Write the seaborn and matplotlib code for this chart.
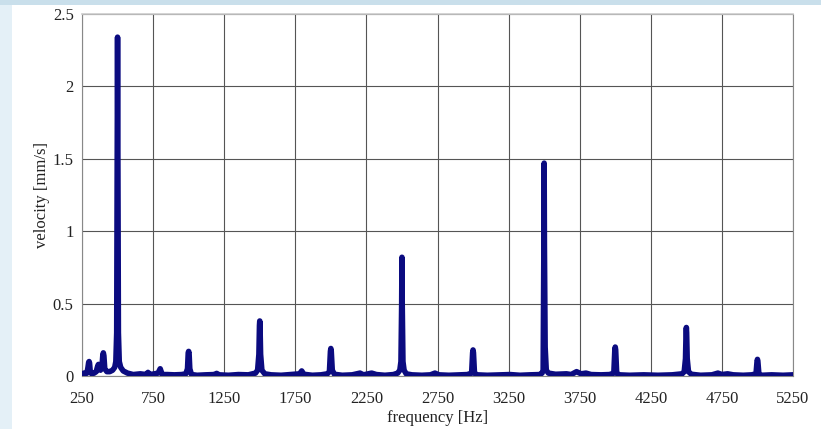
import pandas as pd
import seaborn as sns
import matplotlib.pyplot as plt
from matplotlib.patches import Rectangle

# spectrum points as (frequency Hz, velocity mm/s)
band_low = [(250, 0.01), (262, 0.02), (275, 0.015), (285, 0.02), (292, 0.06), (297, 0.095),
            (300, 0.1), (303, 0.09), (308, 0.03), (318, 0.015), (335, 0.02), (350, 0.03),
            (358, 0.06), (363, 0.075), (366, 0.08), (370, 0.06), (380, 0.04), (390, 0.06),
            (396, 0.14), (400, 0.16), (404, 0.14), (410, 0.05), (425, 0.03), (445, 0.03),
            (465, 0.04), (480, 0.06), (488, 0.1), (494, 0.3), (498, 1.6), (500, 2.34),
            (502, 1.6), (506, 0.3), (512, 0.1), (522, 0.06), (540, 0.035), (570, 0.02),
            (610, 0.01), (660, 0.015), (700, 0.01), (714, 0.025), (728, 0.01), (760, 0.015),
            (785, 0.02), (795, 0.04), (800, 0.05), (805, 0.035), (815, 0.01), (850, 0.01),
            (900, 0.008), (950, 0.01), (980, 0.015), (992, 0.05), (997, 0.16), (1000, 0.17),
            (1003, 0.16), (1008, 0.05), (1020, 0.01), (1060, 0.005), (1120, 0.008),
            (1180, 0.01), (1197, 0.018), (1215, 0.008), (1280, 0.005), (1350, 0.01),
            (1420, 0.008), (1470, 0.02), (1485, 0.04), (1494, 0.15), (1498, 0.35),
            (1500, 0.38), (1502, 0.35), (1506, 0.15), (1515, 0.04), (1535, 0.015)]
band_mid = [(1580, 0.008), (1650, 0.005), (1720, 0.01), (1780, 0.015), (1795, 0.035),
            (1810, 0.012), (1870, 0.005), (1930, 0.008), (1975, 0.015), (1990, 0.03),
            (1997, 0.17), (2000, 0.19), (2003, 0.17), (2010, 0.04), (2025, 0.012),
            (2080, 0.005), (2150, 0.008), (2205, 0.02), (2230, 0.008), (2287, 0.02),
            (2320, 0.01), (2380, 0.005), (2440, 0.01), (2470, 0.02), (2485, 0.04),
            (2493, 0.1), (2498, 0.5), (2500, 0.82), (2502, 0.5), (2507, 0.1), (2515, 0.04),
            (2530, 0.015), (2570, 0.008), (2640, 0.005), (2700, 0.008), (2732, 0.02),
            (2760, 0.008), (2830, 0.005), (2900, 0.008), (2960, 0.01), (2990, 0.02),
            (2997, 0.16), (3000, 0.18), (3003, 0.16), (3010, 0.02), (3030, 0.008),
            (3100, 0.005), (3200, 0.008), (3260, 0.01), (3330, 0.005), (3400, 0.008),
            (3470, 0.01), (3485, 0.02), (3493, 0.04), (3498, 0.9), (3500, 1.47),
            (3502, 0.9), (3507, 0.2), (3515, 0.04), (3530, 0.02), (3580, 0.012)]
band_high = [(3657, 0.015), (3690, 0.01), (3728, 0.03), (3760, 0.015), (3794, 0.02),
             (3830, 0.01), (3900, 0.008), (3960, 0.01), (3990, 0.02), (3997, 0.18),
             (4000, 0.2), (4003, 0.18), (4010, 0.02), (4030, 0.008), (4100, 0.005),
             (4200, 0.008), (4300, 0.005), (4400, 0.008), (4470, 0.015), (4485, 0.03),
             (4494, 0.12), (4498, 0.3), (4500, 0.335), (4502, 0.3), (4506, 0.12),
             (4515, 0.03), (4535, 0.012), (4600, 0.005), (4680, 0.008), (4722, 0.02),
             (4750, 0.01), (4790, 0.015), (4830, 0.008), (4900, 0.005), (4960, 0.008),
             (4990, 0.015), (4997, 0.1), (5000, 0.115), (5003, 0.1), (5010, 0.015),
             (5030, 0.005), (5100, 0.008), (5180, 0.005), (5250, 0.008)]
x_ticks = [250, 750, 1250, 1750, 2250, 2750, 3250, 3750, 4250, 4750, 5250]
y_ticks = [0, 0.5, 1, 1.5, 2, 2.5]
y_labels = ["0", "0.5", "1", "1.5", "2", "2.5"]

sns.set_style("white")
plt.rcParams['font.family'] = ['Liberation Serif', 'DejaVu Serif']

df = pd.DataFrame(band_low + band_mid + band_high, columns=["frequency", "velocity"])

fig = plt.figure(figsize=(8.21, 4.29), dpi=100, facecolor="white")
# light blue slide background showing at the left and top edges
fig.patches.append(Rectangle((0, 0), 12 / 821, 1, transform=fig.transFigure,
                             facecolor="#e4f0f7", edgecolor="none", zorder=0))
fig.patches.append(Rectangle((0, 1 - 5 / 429), 1, 5 / 429, transform=fig.transFigure,
                             facecolor="#c9dfeb", edgecolor="none", zorder=0))

ax = fig.add_axes([82 / 821, 1 - 376 / 429, 711 / 821, 362 / 429])
sns.lineplot(data=df, x="frequency", y="velocity", ax=ax, sort=False, estimator=None,
             color="#0b0b80", linewidth=4.0, solid_joinstyle="round",
             solid_capstyle="round", zorder=3)

ax.set_xlim(250, 5250)
ax.set_ylim(0, 2.5)
ax.set_xticks(x_ticks)
ax.set_yticks(y_ticks)
ax.set_yticklabels(y_labels)
ax.grid(True, color="#555555", linewidth=0.8)
ax.tick_params(length=0, labelsize=12, colors="#222222")
ax.tick_params(axis="x", pad=11)
ax.tick_params(axis="y", pad=6)
for side in ["left", "bottom", "right"]:
    ax.spines[side].set_color("#888888")
    ax.spines[side].set_linewidth(0.8)
ax.spines["top"].set_color("#cccccc")
ax.spines["top"].set_linewidth(1.2)

ax.set_xlabel("frequency [Hz]", fontsize=12, color="#222222", labelpad=2)
ax.set_ylabel("velocity [mm/s]", fontsize=12, color="#222222", labelpad=2)

fig.savefig("out.png", dpi=100, facecolor=fig.get_facecolor())
